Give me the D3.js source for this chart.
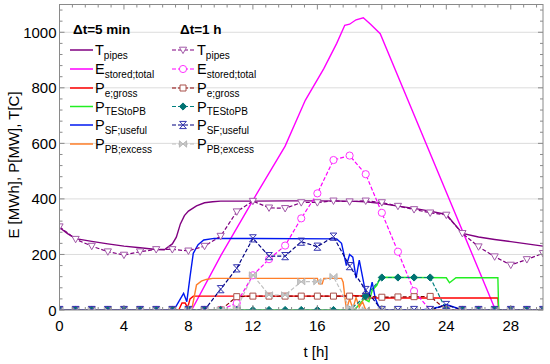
<!DOCTYPE html>
<html><head><meta charset="utf-8">
<script src="https://cdn.jsdelivr.net/npm/d3@7/dist/d3.min.js"></script>
<style>body{margin:0;background:#fff}svg{display:block}text{font-family:"Liberation Sans",Arial,sans-serif}</style>
</head><body><svg id="c" width="550" height="364"></svg>
<script>
// ---------- data ----------
const xTicks = [0,4,8,12,16,20,24,28];
const yTicks = [0,200,400,600,800,1000];
const hours = d3.range(0,31);

// 5 min series (breakpoints)
const tT5 = [0,0.5,1,2,3,4,5,6,6.5,7,7.25,7.5,7.75,8,8.5,9,9.5,10,12,14,16,18,19,20,21,22,23,24,24.5,25,26,27,28,29,30];
const vT5 = [297,275,257,247,238,230,224,218,217,238,262,310,340,356,375,386,390,392,392,393,393,392,390,383,374,366,356,344,310,276,263,254,246,238,230];

const tE5 = [0,8.2,10,12,14,15.25,16.4,17.2,17.7,18.0,18.4,18.85,19.3,19.9,27.05,30];
const vE5 = [0,0,195,395,590,755,869,960,1025,1029,1045,1052,1029,995,0,0];

const tPe5 = [0,7.4,7.6,7.8,7.95,8.1,8.3,17.5,18,19,19.05,27.2,27.25,30];
const vPe5 = [0,0,25,25,8,40,50,50,52,50,43,43,0,0];

const tTES5 = [0,18.3,18.6,18.9,19.2,19.4,19.7,19.9,24.0,24.2,24.6,27.2,27.25,30];
const vTES5 = [0,0,20,40,30,70,90,118,116,98,116,116,0,0];

const tSF5 = [0,7.1,7.4,7.7,7.9,8.1,8.3,8.6,8.95,9.6,17.2,17.5,17.8,18.0,18.2,18.4,18.6,18.8,19.0,19.2,19.4,19.6,19.9,22.5,23.5,24,24.5,25,30];
const vSF5 = [0,0,30,60,30,120,204,235,252,258,256,240,160,200,190,115,180,120,60,50,100,40,0,0,10,20,10,0,0];

const tPB5 = [0,8.2,8.5,8.8,9.1,9.5,16.0,16.1,16.3,16.4,17.5,17.6,17.8,18.0,18.2,18.4,18.6,18.8,19.0,30];
const vPB5 = [0,0,90,104,110,114,114,94,94,114,114,100,0,40,5,45,10,30,0,0];

// 1 h series
const T1h   = [300,255,230,210,198,210,218,218,213,230,266,354,392,368,366,387,387,393,390,393,387,374,362,350,342,276,228,192,162,182,204];
const E1h   = [0,0,0,0,0,0,0,0,0,0,0,25,125,183,232,330,420,540,556,489,350,210,68,0,0,0,0,0,0,0,0];
const Pe1h  = [0,0,0,0,0,0,0,0,0,0,0,48,50,50,50,50,50,50,50,50,46,47,48,49,0,0,0,0,0,0,0];
const TES1h = [0,0,0,0,0,0,0,0,0,0,0,0,0,0,0,0,0,0,0,50,117,117,117,117,0,0,0,0,0,0,0];
const SF1h  = [0,0,0,0,0,0,0,0,0,0,75,150,258,194,194,246,228,264,158,72,0,0,0,0,18,0,0,0,0,0,0];
const PB1h  = [0,0,0,0,0,0,0,0,0,0,0,5,126,54,54,102,102,120,8,0,0,0,0,0,0,0,0,0,0,0,0];

const legendLabels = [["T","pipes"],["E","stored;total"],["P","e;gross"],["P","TEStoPB"],["P","SF;useful"],["P","PB;excess"]];

// ---------- layout ----------
const svg = d3.select("#c");
const L=59.5, R=543, T=4.5, B=310;
const x = d3.scaleLinear().domain([0,30]).range([L,R]);
const y = d3.scaleLinear().domain([0,1100]).range([B,T]);

// grid
svg.append("g").selectAll("line").data(yTicks.slice(1)).join("line")
  .attr("x1",L).attr("x2",R).attr("y1",d=>y(d)).attr("y2",d=>y(d))
  .attr("stroke","#dcdcdc").attr("stroke-width",1);

const clip = svg.append("clipPath").attr("id","pc").append("rect")
  .attr("x",L).attr("y",T).attr("width",R-L).attr("height",B-T);
const plot = svg.append("g").attr("clip-path","url(#pc)");

const line = d3.line().x(d=>x(d[0])).y(d=>y(d[1]));
function zip(ts,vs){return ts.map((t,i)=>[t,vs[i]]);}

const series5 = [
  {t:tT5,v:vT5,c:"#800080"},
  {t:tE5,v:vE5,c:"#ff00ff"},
  {t:tPe5,v:vPe5,c:"#ff0000"},
  {t:tTES5,v:vTES5,c:"#22ee22"},
  {t:tPB5,v:vPB5,c:"#ff7f2a"},
  {t:tSF5,v:vSF5,c:"#0018f0"}
];
const mk = {
  tri:"M-3.6,-2.8L3.6,-2.8L0,3.6Z",
  sq:"M-3,-3L3,-3L3,3L-3,3Z",
  dia:"M0,-3.6L3.6,0L0,3.6L-3.6,0Z",
  hour:"M-3.4,-3.6L3.4,-3.6L-3.4,3.6L3.4,3.6Z",
  bow:"M-3.6,-3.2L-3.6,3.2L3.6,-3.2L3.6,3.2Z"
};
const series1 = [
  {v:T1h,c:"#800080",m:"tri",ms:"#a25aa8",mf:"#fff"},
  {v:E1h,c:"#ff00ff",m:"circ",ms:"#ff33ff",mf:"#fff"},
  {v:Pe1h,c:"#8b0000",m:"sq",ms:"#a8504a",mf:"#fff"},
  {v:TES1h,c:"#008080",m:"dia",ms:"#007272",mf:"#007272"},
  {v:PB1h,c:"#c0c0c0",m:"bow",ms:"#b8b8b8",mf:"#c8c8c8"},
  {v:SF1h,c:"#000080",m:"hour",ms:"#3434b0",mf:"none"}
];

series5.forEach(s=>{
  plot.append("path").attr("d",line(zip(s.t,s.v))).attr("fill","none")
    .attr("stroke",s.c).attr("stroke-width",1.4);
});
function drawMarker(g,m,cx,cy,s,f){
  if(m==="circ") g.append("circle").attr("cx",cx).attr("cy",cy).attr("r",3.6)
     .attr("fill",f).attr("stroke",s).attr("stroke-width",1);
  else g.append("path").attr("d",mk[m]).attr("transform",`translate(${cx},${cy})`)
     .attr("fill",f).attr("stroke",s).attr("stroke-width",1);
}
series1.forEach(s=>{
  const pts = hours.map((h,i)=>[h,s.v[i]]);
  plot.append("path").attr("d",line(pts)).attr("fill","none")
    .attr("stroke",s.c).attr("stroke-width",1.2).attr("stroke-dasharray","4,2");
  const g = plot.append("g");
  pts.forEach(p=>drawMarker(g,s.m,x(p[0]),y(p[1]),s.ms,s.mf));
});

// frame
svg.append("rect").attr("x",L).attr("y",T).attr("width",R-L).attr("height",B-T)
  .attr("fill","none").attr("stroke","#8a8a8a").attr("stroke-width",1);

// ticks (inward, all sides)
const tg = svg.append("g").attr("stroke","#8a8a8a").attr("stroke-width",1);
const xMinor = d3.range(0,30.01,0.8);
xMinor.forEach(v=>{
  const major = xTicks.includes(Math.round(v*10)/10);
  const len = major?5:3;
  tg.append("line").attr("x1",x(v)).attr("x2",x(v)).attr("y1",B).attr("y2",B-len);
  tg.append("line").attr("x1",x(v)).attr("x2",x(v)).attr("y1",T).attr("y2",T+len);
});
const yMinor = d3.range(0,1100.1,40);
yMinor.forEach(v=>{
  const major = yTicks.includes(v);
  const len = major?5:3;
  tg.append("line").attr("y1",y(v)).attr("y2",y(v)).attr("x1",L).attr("x2",L+len);
  tg.append("line").attr("y1",y(v)).attr("y2",y(v)).attr("x1",R).attr("x2",R-len);
});

// tick labels
svg.append("g").selectAll("text").data(xTicks).join("text")
  .attr("x",d=>x(d)).attr("y",331).attr("text-anchor","middle")
  .attr("font-size",15).text(d=>d);
svg.append("g").selectAll("text").data(yTicks).join("text")
  .attr("x",L-3).attr("y",d=>y(d)+5.5).attr("text-anchor","end")
  .attr("font-size",15).text(d=>d);

// axis titles
svg.append("text").attr("x",316).attr("y",357).attr("text-anchor","middle")
  .attr("font-size",15).text("t [h]");
svg.append("text").attr("transform","translate(19,165) rotate(-90)")
  .attr("text-anchor","middle").attr("font-size",15).text("E [MWh], P[MW], T[C]");

// legend
const lg = svg.append("g");
lg.append("text").attr("x",73).attr("y",34).attr("font-size",13.5).attr("font-weight","bold").text("Δt=5 min");
lg.append("text").attr("x",180).attr("y",34).attr("font-size",13.5).attr("font-weight","bold").text("Δt=1 h");
const rowY = [50,69,88,106.5,125,144];
legendLabels.forEach((lab,i)=>{
  const yy=rowY[i];
  lg.append("line").attr("x1",70).attr("x2",93).attr("y1",yy).attr("y2",yy)
    .attr("stroke",series5[[0,1,2,3,5,4][i]].c).attr("stroke-width",1.5);
  const s1 = series1[[0,1,2,3,5,4][i]];
  lg.append("line").attr("x1",172).attr("x2",194).attr("y1",yy).attr("y2",yy)
    .attr("stroke",s1.c).attr("stroke-width",1.2).attr("stroke-dasharray","4,2");
  drawMarker(lg,s1.m,183,yy,s1.ms,s1.mf);
  [95,197].forEach(tx=>{
    const t = lg.append("text").attr("x",tx).attr("y",yy+5).attr("font-size",14.5);
    t.append("tspan").text(lab[0]);
    t.append("tspan").attr("dy",3.5).attr("font-size",10).text(lab[1]);
  });
});
</script></body></html>
